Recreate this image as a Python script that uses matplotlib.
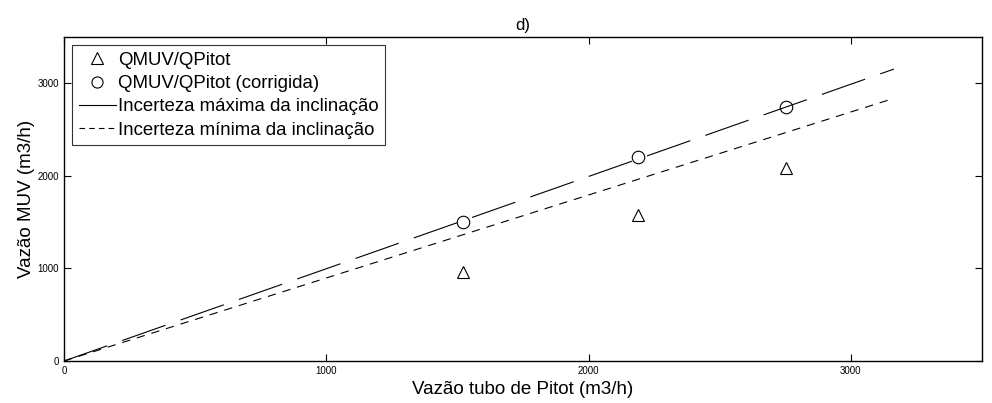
import numpy as np
import matplotlib
matplotlib.use('Agg')
import matplotlib.pyplot as plt
from matplotlib.lines import Line2D

plt.rcParams['font.family'] = ['Liberation Sans', 'DejaVu Sans']
plt.rcParams['lines.scale_dashes'] = False

# data
q_pitot = [1523, 2188, 2753]
q_muv = [964, 1582, 2080]
q_muv_corr = [1506, 2199, 2741]
x_line = [0, 3164]
slope_max = 0.997
slope_min = 0.897
labels = ["QMUV/QPitot", "QMUV/QPitot (corrigida)",
          "Incerteza máxima da inclinação", "Incerteza mínima da inclinação"]

fig = plt.figure(figsize=(9.92, 4.03), dpi=100)
ax = fig.add_axes([0.0645, 0.1042, 0.9255, 0.8038])

xl = np.array(x_line)
ax.plot(xl, slope_max*xl, color='k', lw=0.8, dashes=(33, 11.5))
ax.plot(xl, slope_min*xl, color='k', lw=0.8, dashes=(6, 5))
ax.plot(q_pitot, q_muv, '^', mfc='none', mec='k', ms=9, mew=0.8)
ax.plot(q_pitot, q_muv_corr, 'o', mfc='none', mec='k', ms=9, mew=0.8)

ax.set_xlim([0, 3500])
ax.set_ylim([0, 3500])
ax.set_xticks([0, 1000, 2000, 3000])
ax.set_yticks([0, 1000, 2000, 3000])
ax.tick_params(direction='in', top=True, right=True, labelsize=7, length=5, width=0.8)
for s in ax.spines.values():
    s.set_linewidth(1.0)

ax.set_xlabel("Vazão tubo de Pitot (m3/h)", fontsize=13.5, labelpad=4)
ax.set_ylabel("Vazão MUV (m3/h)", fontsize=13.5, labelpad=2)
ax.set_title("d)", fontsize=12, pad=5)

handles = [Line2D([], [], ls='none', marker='^', mfc='none', mec='k', ms=8, mew=0.8),
           Line2D([], [], ls='none', marker='o', mfc='none', mec='k', ms=8, mew=0.8),
           Line2D([], [], color='k', lw=0.8),
           Line2D([], [], color='k', lw=0.8, dashes=(4, 3))]
leg = ax.legend(handles, labels, loc='upper left', fontsize=13.4, frameon=True, fancybox=False,
                edgecolor='k', borderaxespad=0.45, handlelength=2.0, handletextpad=0.1,
                borderpad=0.35, labelspacing=0.33)
leg.get_frame().set_linewidth(0.8)

plt.savefig('out.png', dpi=100)
